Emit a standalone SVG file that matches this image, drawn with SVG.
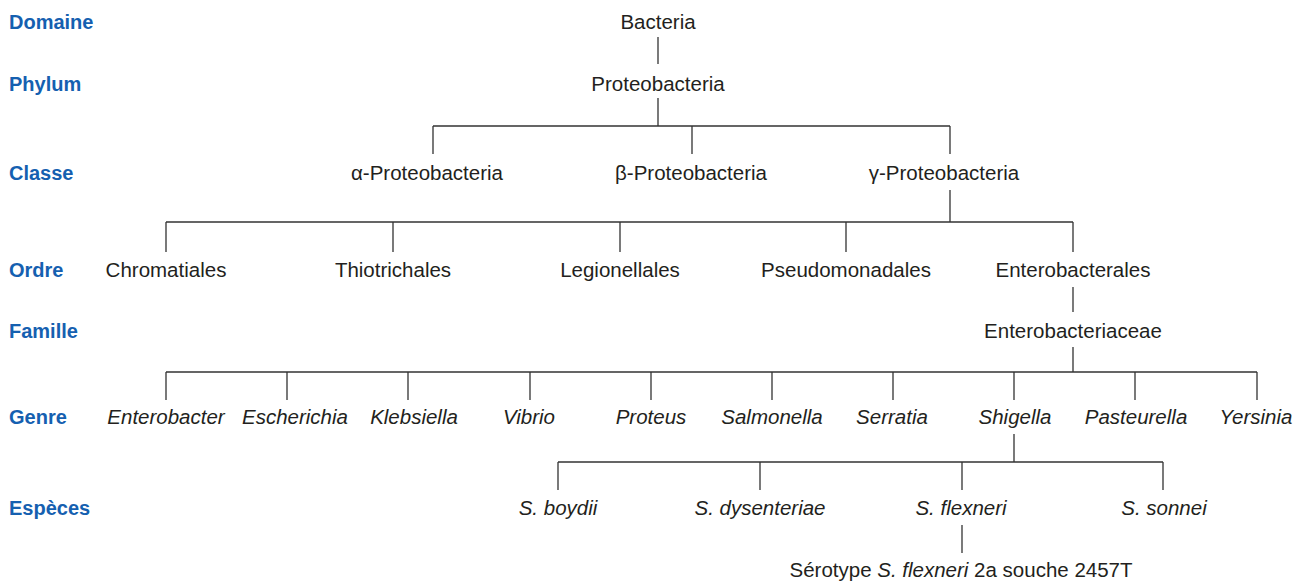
<svg xmlns="http://www.w3.org/2000/svg" width="1296" height="581" viewBox="0 0 1296 581">
  <style>
    .rank { font-family: "Liberation Sans", Arial, sans-serif; font-size: 20px; font-weight: bold; fill: #1560b0; }
    .taxon { font-family: "Liberation Sans", Arial, sans-serif; font-size: 20.5px; fill: #231f20; text-anchor: middle; }
    .it { font-style: italic; }
    .link { fill: none; stroke: #333333; stroke-width: 1.3; }
  </style>
  <rect width="1296" height="581" fill="#ffffff"/>

  <!-- taxonomic rank labels -->
  <g id="ranks">
    <text class="rank" x="9" y="29">Domaine</text>
    <text class="rank" x="9" y="91">Phylum</text>
    <text class="rank" x="9" y="180">Classe</text>
    <text class="rank" x="9" y="277">Ordre</text>
    <text class="rank" x="9" y="338">Famille</text>
    <text class="rank" x="9" y="424">Genre</text>
    <text class="rank" x="9" y="515">Espèces</text>
  </g>

  <!-- tree connectors -->
  <g id="connectors" class="link">
    <path d="M658 37V64"/>
    <path d="M658 98V126M433 126H950M433 126V154M692 126V154M950 126V154"/>
    <path d="M950 190V222M166 222H1073M166 222V252M393 222V252M620 222V252M846 222V252M1073 222V252"/>
    <path d="M1073 287V312"/>
    <path d="M1073 347V372M166 372H1257M166 372V400M287 372V400M408 372V400M530 372V400M651 372V400M772 372V400M893 372V400M1014 372V400M1135 372V400M1257 372V400"/>
    <path d="M1014 434V462M558 462H1163M558 462V490M760 462V490M962 462V490M1163 462V490"/>
    <path d="M962 525V553"/>
  </g>

  <!-- domain / phylum -->
  <g id="bacteria"><text class="taxon" x="658" y="29">Bacteria</text></g>
  <g id="proteobacteria"><text class="taxon" x="658" y="91">Proteobacteria</text></g>

  <!-- classes -->
  <g id="alpha"><text class="taxon" x="427" y="180">α-Proteobacteria</text></g>
  <g id="beta"><text class="taxon" x="691" y="180">β-Proteobacteria</text></g>
  <g id="gamma"><text class="taxon" x="944" y="180">γ-Proteobacteria</text></g>

  <!-- orders -->
  <g id="chromatiales"><text class="taxon" x="166" y="277">Chromatiales</text></g>
  <g id="thiotrichales"><text class="taxon" x="393" y="277">Thiotrichales</text></g>
  <g id="legionellales"><text class="taxon" x="620" y="277">Legionellales</text></g>
  <g id="pseudomonadales"><text class="taxon" x="846" y="277">Pseudomonadales</text></g>
  <g id="enterobacterales"><text class="taxon" x="1073" y="277">Enterobacterales</text></g>

  <!-- family -->
  <g id="enterobacteriaceae"><text class="taxon" x="1073" y="338">Enterobacteriaceae</text></g>

  <!-- genera -->
  <g id="enterobacter"><text class="taxon it" x="166" y="424">Enterobacter</text></g>
  <g id="escherichia"><text class="taxon it" x="295" y="424">Escherichia</text></g>
  <g id="klebsiella"><text class="taxon it" x="414" y="424">Klebsiella</text></g>
  <g id="vibrio"><text class="taxon it" x="529" y="424">Vibrio</text></g>
  <g id="proteus"><text class="taxon it" x="651" y="424">Proteus</text></g>
  <g id="salmonella"><text class="taxon it" x="772" y="424">Salmonella</text></g>
  <g id="serratia"><text class="taxon it" x="892" y="424">Serratia</text></g>
  <g id="shigella"><text class="taxon it" x="1015" y="424">Shigella</text></g>
  <g id="pasteurella"><text class="taxon it" x="1136" y="424">Pasteurella</text></g>
  <g id="yersinia"><text class="taxon it" x="1256" y="424">Yersinia</text></g>

  <!-- species -->
  <g id="s-boydii"><text class="taxon it" x="558" y="515">S. boydii</text></g>
  <g id="s-dysenteriae"><text class="taxon it" x="760" y="515">S. dysenteriae</text></g>
  <g id="s-flexneri"><text class="taxon it" x="961" y="515">S. flexneri</text></g>
  <g id="s-sonnei"><text class="taxon it" x="1164" y="515">S. sonnei</text></g>

  <!-- strain -->
  <g id="strain-2457t"><text class="taxon" x="961" y="577">Sérotype <tspan class="it">S. flexneri</tspan> 2a souche 2457T</text></g>
</svg>
